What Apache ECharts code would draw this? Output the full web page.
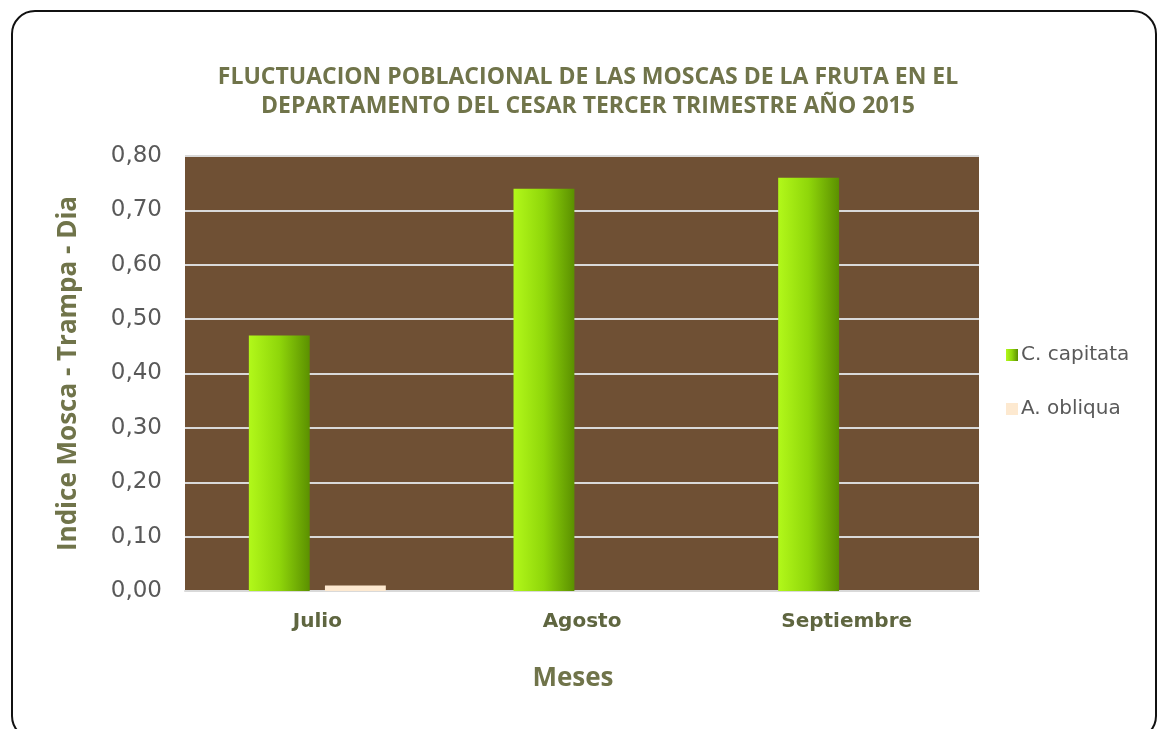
<!DOCTYPE html>
<html>
<head>
<meta charset="utf-8">
<script src="https://cdn.jsdelivr.net/npm/echarts@6/dist/echarts.min.js"></script>
<style>
  html, body { margin: 0; padding: 0; background: #fff; }
  #frame {
    position: absolute; left: 11px; top: 10px; width: 1146px; height: 730px;
    border: 2px solid #111; border-radius: 24px; box-sizing: border-box;
  }
  #chart { position: absolute; left: 0; top: 0; width: 1161px; height: 729px; }
</style>
</head>
<body>
<div id="frame"></div>
<div id="chart"></div>
<script>
// datos del grafico
const meses = ['Julio', 'Agosto', 'Septiembre']
const capitata = [0.47, 0.74, 0.76]
const obliqua = [0.01, 0, 0]
const olive = '#70744a'

const myChart = echarts.init(document.getElementById('chart'))
const option = {
  animation: false,
  title: {
    text: 'FLUCTUACION POBLACIONAL DE LAS MOSCAS DE LA FRUTA EN EL\nDEPARTAMENTO DEL CESAR TERCER TRIMESTRE AÑO 2015',
    left: 583,
    textAlign: 'center',
    top: 58,
    textStyle: {
      fontFamily: 'Open Sans',
      fontWeight: 'bold',
      fontSize: 23,
      lineHeight: 29,
      color: olive,
    },
  },
  legend: {
    orient: 'vertical',
    left: 1001,
    top: 340,
    itemWidth: 12,
    itemHeight: 12,
    itemGap: 34,
    icon: 'rect',
    textStyle: { fontFamily: 'DejaVu Sans', fontSize: 20, color: '#595959', padding: [0, 0, 0, -2] },
    data: ['C. capitata', 'A. obliqua'],
  },
  grid: {
    left: 185,
    right: 182,
    top: 156,
    bottom: 138,
    show: true,
    backgroundColor: '#6f5034',
    borderWidth: 0,
  },
  xAxis: {
    type: 'category',
    data: meses,
    name: 'Meses',
    nameLocation: 'middle',
    nameGap: 75,
    nameTextStyle: { fontFamily: 'Open Sans', fontWeight: 'bold', fontSize: 26, color: olive, padding: [0, 18, 0, 0] },
    axisTick: { show: false },
    axisLine: { lineStyle: { color: '#d9d9d9', width: 2 } },
    axisLabel: { margin: 21, fontFamily: 'DejaVu Sans', fontWeight: 'bold', fontSize: 20, color: '#5f6640' },
  },
  yAxis: {
    type: 'value',
    min: 0,
    max: 0.8,
    interval: 0.1,
    name: 'Indice Mosca - Trampa - Dia',
    nameLocation: 'middle',
    nameGap: 103,
    nameTextStyle: { fontFamily: 'Open Sans', fontWeight: 'bold', fontSize: 26, color: olive },
    axisLine: { show: false },
    axisTick: { show: false },
    axisLabel: {
      margin: 23,
      fontFamily: 'DejaVu Sans',
      fontSize: 23,
      color: '#595959',
      formatter: v => v.toFixed(2).replace('.', ','),
    },
    splitLine: { lineStyle: { color: '#d9d9d9', width: 2 } },
  },
  series: [
    {
      name: 'C. capitata',
      type: 'bar',
      data: capitata,
      barWidth: '23%',
      barGap: '25%',
      itemStyle: {
        color: new echarts.graphic.LinearGradient(0, 0, 1, 0, [
          { offset: 0, color: '#b2f81a' },
          { offset: 0.5, color: '#8fd60a' },
          { offset: 1, color: '#5b9000' },
        ]),
      },
    },
    {
      name: 'A. obliqua',
      type: 'bar',
      data: obliqua,
      barWidth: '23%',
      itemStyle: { color: '#fde9d0' },
    },
  ],
}
myChart.setOption(option)
</script>
</body>
</html>
